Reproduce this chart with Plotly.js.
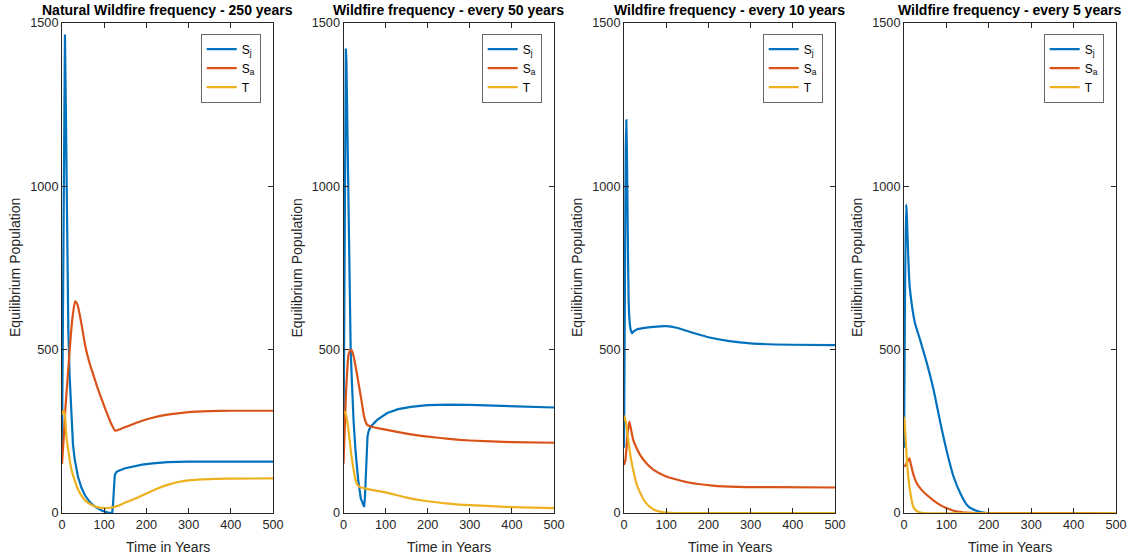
<!DOCTYPE html>
<html>
<head>
<meta charset="utf-8">
<script src="https://cdn.plot.ly/plotly-3.0.1.min.js"></script>
<style>html,body{margin:0;padding:0;background:#fff;}</style>
</head>
<body>
<div id="chart" style="width:1130px;height:560px;"></div>
<script>
// Population trajectories (years, population) for each wildfire regime.
// Sj = juveniles, Sa = adults, T = trees.

// Natural wildfire frequency - 250 years
const tSj1 = [0, 3, 6, 7, 9, 11, 13, 15, 18, 22, 26, 30, 38, 46, 54, 62, 70, 80, 95, 110, 119, 121, 123, 125, 128, 133, 150, 170, 190, 215, 250, 300, 400, 500];
const Sj1  = [200, 850, 1440, 1465, 1250, 950, 720, 560, 420, 300, 210, 165, 110, 78, 55, 40, 28, 18, 7, 1, 0, 30, 85, 115, 124, 129, 137, 143, 148, 152, 156, 157, 157, 157];
const tSa1 = [0, 4, 8, 12, 16, 20, 25, 31, 36, 40, 47, 55, 65, 75, 85, 95, 105, 115, 126, 140, 160, 185, 210, 250, 300, 350, 400, 500];
const Sa1  = [150, 230, 320, 390, 460, 530, 600, 648, 640, 620, 572, 512, 460, 420, 380, 345, 310, 278, 252, 258, 268, 280, 290, 301, 309, 312, 313, 313];
const tT1  = [0, 4, 7, 10, 15, 22, 30, 38, 50, 62, 80, 100, 115, 130, 150, 175, 200, 225, 250, 275, 300, 350, 400, 500];
const T1   = [300, 315, 300, 240, 190, 135, 100, 72, 46, 31, 19, 15, 16, 21, 32, 45, 60, 74, 86, 95, 100, 104, 105, 106];

// Wildfire every 50 years
const tSj2 = [0, 3, 5.5, 7, 9, 12, 15, 17, 20, 24, 29, 35, 41, 46, 49, 51, 53, 55, 57, 60, 65, 80, 104, 130, 160, 200, 250, 300, 400, 500];
const Sj2  = [200, 950, 1422, 1380, 1200, 1000, 720, 500, 400, 280, 183, 100, 45, 25, 19, 50, 120, 190, 234, 252, 265, 285, 306, 318, 325, 330, 332, 331, 327, 323];
const tSa2 = [0, 3, 6, 9, 12, 16, 19, 24, 30, 36, 42, 49, 54, 57, 65, 100, 150, 200, 250, 300, 400, 500];
const Sa2  = [150, 260, 370, 440, 485, 498, 499, 480, 440, 395, 350, 295, 275, 269, 265, 255, 243, 234, 227, 222, 217, 215];
const tT2  = [0, 3, 6, 10, 14, 18, 23, 28, 33, 40, 49, 55, 70, 100, 150, 200, 250, 300, 400, 500];
const T2   = [305, 310, 300, 270, 230, 183, 140, 105, 86, 79, 76, 74, 70, 63, 47, 36, 29, 24, 18, 15];

// Wildfire every 10 years
const tSj3 = [0, 2, 4, 5.5, 7, 9, 11, 13, 16, 19, 23, 30, 45, 70, 100, 125, 150, 175, 200, 250, 300, 400, 500];
const Sj3  = [200, 650, 1100, 1203, 1100, 850, 650, 590, 560, 550, 556, 562, 566, 570, 572, 567, 557, 547, 538, 526, 519, 515, 514];
const tSa3 = [0, 3, 6, 9, 12.7, 16, 22, 30, 38, 50, 70, 100, 150, 210, 270, 350, 500];
const Sa3  = [147, 160, 200, 250, 280, 260, 223, 198, 178, 157, 132, 112, 94, 84, 80, 79, 78];
const tT3  = [0, 4, 8, 12, 16, 22, 30, 38, 46, 54, 62, 70, 80, 95, 110, 130, 500];
const T3   = [298, 280, 245, 205, 170, 130, 88, 63, 42, 28, 18, 11, 6, 2, 0.5, 0, 0];

// Wildfire every 5 years
const tSj4 = [0, 2, 4.8, 6, 8, 10, 13, 18, 26, 38, 54, 70, 86, 102, 117, 133, 149, 160, 173, 185, 197, 220, 500];
const Sj4  = [200, 600, 943, 930, 860, 785, 700, 642, 581, 530, 458, 376, 275, 183, 111, 60, 24, 13, 6, 2, 0, 0, 0];
const tSa4 = [0, 3, 6, 9, 12.7, 16, 22, 30, 42, 54, 70, 86, 100, 117, 135, 149, 170, 500];
const Sa4  = [142, 145, 152, 160, 167, 150, 118, 91, 70, 55, 38, 24, 15, 7, 3, 1, 0, 0];
const tT4  = [0, 2, 4, 6.3, 9, 12, 14, 18, 22, 28, 34, 45, 500];
const T4   = [295, 270, 225, 172, 125, 90, 70, 40, 19, 8, 3, 0, 0];

const panelTitles = [
  'Natural Wildfire frequency - 250 years',
  'Wildfire frequency - every 50 years',
  'Wildfire frequency - every 10 years',
  'Wildfire frequency - every 5 years'
];
const seriesNames = ['S<sub>j</sub>', 'S<sub>a</sub>', 'T'];
const xTickVals = [0, 100, 200, 300, 400, 500];
const yTickVals = [0, 500, 1000, 1500];
const xLabel = 'Time in Years';
const yLabel = 'Equilibrium Population';

const panels = [
  [[tSj1, Sj1], [tSa1, Sa1], [tT1, T1]],
  [[tSj2, Sj2], [tSa2, Sa2], [tT2, T2]],
  [[tSj3, Sj3], [tSa3, Sa3], [tT3, T3]],
  [[tSj4, Sj4], [tSa4, Sa4], [tT4, T4]]
];

// Page geometry in pixels
const W = 1130, H = 560;
const boxes = [[62, 273], [343.5, 554], [624, 835], [904, 1116]];
const plotTop = 23, plotBottom = 513;
const colors = ['#0072BD', '#D95319', '#EDB120'];
const FONT = 'Liberation Sans, Arial, Helvetica, sans-serif';
const AX = '#262626';

const px = v => v / W;
const py = v => 1 - v / H;

const traces = [];
const layout = {
  width: W, height: H,
  margin: {l: 0, r: 0, t: 0, b: 0},
  paper_bgcolor: '#fff', plot_bgcolor: '#fff',
  font: {family: FONT, color: AX},
  annotations: [],
  showlegend: true
};

panels.forEach((series, i) => {
  const n = i + 1;
  const xa = n === 1 ? 'x' : 'x' + n;
  const ya = n === 1 ? 'y' : 'y' + n;
  const lg = n === 1 ? 'legend' : 'legend' + n;
  series.forEach(([t, v], k) => {
    // the abrupt recovery of juveniles after the first fire stays piecewise linear
    const sharp = (n === 1 && k === 0) || (n === 2 && k === 0);
    traces.push({
      x: t, y: v, type: 'scatter', mode: 'lines',
      name: seriesNames[k],
      line: sharp ? {color: colors[k], width: 2.2}
                  : {color: colors[k], width: 2.2, shape: 'spline', smoothing: 0.5},
      xaxis: xa, yaxis: ya, legend: lg,
      hoverinfo: 'skip'
    });
  });
  const [l, r] = boxes[i];
  const axCommon = {
    showline: true, linecolor: AX, linewidth: 1, mirror: 'ticks',
    ticks: 'inside', ticklen: 5, tickcolor: AX, tickwidth: 1,
    showgrid: false, zeroline: false, fixedrange: true,
    tickfont: {family: FONT, size: 12.7, color: AX}
  };
  layout['xaxis' + (n === 1 ? '' : n)] = Object.assign({}, axCommon, {
    domain: [px(l), px(r)], range: [0, 500],
    tickvals: xTickVals, anchor: ya
  });
  layout['yaxis' + (n === 1 ? '' : n)] = Object.assign({}, axCommon, {
    domain: [py(plotBottom), py(plotTop)], range: [0, 1500],
    tickvals: yTickVals, anchor: xa
  });
  layout[lg] = {
    x: px(r - 12), y: py(34), xanchor: 'right', yanchor: 'top',
    xref: 'paper', yref: 'paper',
    bgcolor: '#fff', bordercolor: AX, borderwidth: 0.7,
    font: {family: FONT, size: 12, color: '#000'}
  };
  // subplot title
  layout.annotations.push({
    text: '<b>' + panelTitles[i] + '</b>', showarrow: false,
    xref: 'paper', yref: 'paper', x: px((l + r) / 2), y: py(10),
    xanchor: 'center', yanchor: 'middle',
    font: {family: FONT, size: 14, color: '#000'}
  });
  // x axis label
  layout.annotations.push({
    text: xLabel, showarrow: false,
    xref: 'paper', yref: 'paper', x: px((l + r) / 2), y: py(547),
    xanchor: 'center', yanchor: 'middle',
    font: {family: FONT, size: 14, color: AX}
  });
  // y axis label
  layout.annotations.push({
    text: yLabel, showarrow: false, textangle: -90,
    xref: 'paper', yref: 'paper', x: px(l - 47), y: py((plotTop + plotBottom) / 2),
    xanchor: 'center', yanchor: 'middle',
    font: {family: FONT, size: 14, color: AX}
  });
});

Plotly.newPlot('chart', traces, layout, {displayModeBar: false, staticPlot: true});
</script>
</body>
</html>
